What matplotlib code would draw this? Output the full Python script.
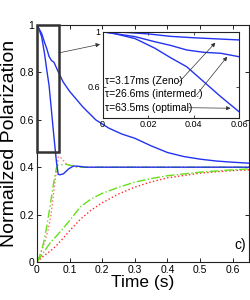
import matplotlib
matplotlib.use("Agg")
import matplotlib.pyplot as plt
from matplotlib.patches import Rectangle

plt.rcParams['font.family'] = ['Liberation Sans Narrow', 'Liberation Sans', 'DejaVu Sans']

# ---------------- data ----------------
# intermediate tau (slow blue, main plot)
t_inter = [0, 0.0143, 0.023, 0.03, 0.037, 0.0445, 0.052, 0.06, 0.066, 0.08, 0.1, 0.14, 0.18,
           0.22, 0.26, 0.3, 0.35, 0.4, 0.45, 0.5, 0.55, 0.6, 0.65]
p_inter = [1.0, 0.964, 0.927, 0.90, 0.867, 0.85, 0.843, 0.818, 0.80, 0.76, 0.72, 0.655, 0.60,
           0.565, 0.54, 0.522, 0.49, 0.462, 0.445, 0.434, 0.426, 0.421, 0.417]

# optimal tau (fast blue)
t_opt = [0, 0.0055, 0.0143, 0.023, 0.03, 0.037, 0.0445, 0.052, 0.06, 0.065, 0.07, 0.081,
         0.097, 0.112, 0.127, 0.15, 0.65]
p_opt = [1.0, 0.985, 0.95, 0.88, 0.81, 0.745, 0.636, 0.527, 0.418, 0.37, 0.368, 0.372,
         0.393, 0.405, 0.404, 0.40, 0.40]

# Zeno tau (inset only)
t_zeno = [0, 0.01, 0.02, 0.03, 0.04, 0.05, 0.06]
p_zeno = [1.0, 0.995, 0.984, 0.966, 0.956, 0.948, 0.94]

# fast green (dash-dot)
t_gfast = [0, 0.01, 0.02, 0.03, 0.04, 0.05, 0.06, 0.065, 0.09, 0.11, 0.13, 0.65]
p_gfast = [0, 0.03, 0.08, 0.15, 0.235, 0.325, 0.40, 0.41, 0.412, 0.405, 0.40, 0.40]

# fast red (dotted)
t_rfast = [0, 0.015, 0.025, 0.035, 0.043, 0.051, 0.058, 0.066, 0.073, 0.081, 0.09, 0.102,
           0.12, 0.15, 0.65]
p_rfast = [0, 0.05, 0.09, 0.14, 0.2, 0.29, 0.37, 0.445, 0.44, 0.428, 0.415, 0.407,
           0.401, 0.40, 0.40]

# slow green (dash-dot)
t_gslow = [0, 0.02, 0.04, 0.065, 0.085, 0.1, 0.133, 0.165, 0.2, 0.25, 0.3, 0.35, 0.4,
           0.5, 0.58, 0.65]
p_gslow = [0, 0.04, 0.08, 0.118, 0.15, 0.175, 0.233, 0.265, 0.29, 0.315, 0.337, 0.352,
           0.364, 0.379, 0.387, 0.393]

# slow red (dotted)
t_rslow = [0, 0.02, 0.04, 0.06, 0.08, 0.1, 0.133, 0.165, 0.2, 0.25, 0.3, 0.35, 0.4,
           0.5, 0.58, 0.65]
p_rslow = [0, 0.025, 0.045, 0.07, 0.1, 0.132, 0.18, 0.218, 0.25, 0.287, 0.316, 0.338,
           0.355, 0.375, 0.384, 0.389]

x_ticks = [0, 0.1, 0.2, 0.3, 0.4, 0.5, 0.6]
x_labels = ["0", "0.1", "0.2", "0.3", "0.4", "0.5", "0.6"]
y_ticks = [0, 0.2, 0.4, 0.6, 0.8, 1.0]
y_labels = ["0", "0.2", "0.4", "0.6", "0.8", "1"]
ix_ticks = [0, 0.02, 0.04, 0.06]
ix_labels = ["0", "0.02", "0.04", "0.06"]
iy_ticks = [0.6, 1.0]
iy_labels = ["0.6", "1"]
labels_tau = ["τ=3.17ms (Zeno)", "τ=26.6ms (intermed.)", "τ=63.5ms (optimal)"]

BLUE = "#2433f0"
GREEN = "#66e01a"
RED = "#ff2a2a"
RED_LIGHT = "#ff7070"

# ---------------- figure ----------------
fig = plt.figure(figsize=(2.51, 3.0), dpi=100)
ax = fig.add_axes([37 / 251, 38 / 300, 212 / 251, 237 / 300])

ax.plot(t_rslow, p_rslow, ':', color=RED, lw=1.0)
ax.plot(t_gslow, p_gslow, '-.', color=GREEN, lw=1.0)
ax.plot(t_rfast, p_rfast, ':', color=RED_LIGHT, lw=1.0)
ax.plot(t_gfast, p_gfast, '-.', color=GREEN, lw=1.0, dashes=(6, 2, 1, 2))
ax.plot(t_inter, p_inter, '-', color=BLUE, lw=1.0)
ax.plot(t_opt, p_opt, '-', color=BLUE, lw=1.0)

ax.set_xlim(0, 0.65)
ax.set_ylim(0, 1)
ax.set_xticks(x_ticks)
ax.set_xticklabels(x_labels)
ax.set_yticks(y_ticks)
ax.set_yticklabels(y_labels)
ax.tick_params(direction='in', top=True, right=True, labelsize=7.5, length=3, width=0.6,
               pad=2)
for s in ax.spines.values():
    s.set_linewidth(0.8)
    s.set_color('#222222')
ax.set_xlabel("Time (s)", fontsize=12.5, labelpad=0)
ax.set_ylabel("Normailzed Polarization", fontsize=14, labelpad=1)
ax.text(0.958, 0.07, "c)", transform=ax.transAxes, fontsize=10, ha='center', va='center')

# zoom box
ax.add_patch(Rectangle((0, 0.463), 0.066, 0.537, fill=False, ec='#333333', lw=1.8,
                       zorder=5, clip_on=False))

# ---------------- inset ----------------
ins = fig.add_axes([102.5 / 251, (300 - 118) / 300, 136.5 / 251, 86.3 / 300])
ins.plot(t_zeno, p_zeno, '-', color=BLUE, lw=1.0)
ins.plot(t_inter[:8], p_inter[:8], '-', color=BLUE, lw=1.0)
ins.plot(t_opt[:9], p_opt[:9], '-', color=BLUE, lw=1.0)
ins.set_xlim(0, 0.06)
ins.set_ylim(0.372, 1.0)
ins.set_xticks(ix_ticks)
ins.set_xticklabels(ix_labels)
ins.set_yticks(iy_ticks)
ins.set_yticklabels(iy_labels)
ins.tick_params(direction='in', top=True, right=True, labelsize=6.5, length=2.5, width=0.5,
                pad=1.5)
for s in ins.spines.values():
    s.set_linewidth(0.8)
    s.set_color('#222222')

text_y = [0.638, 0.547, 0.442]
for lab, yy in zip(labels_tau, text_y):
    ins.text(0.0011, yy, lab, fontsize=7.5, ha='left', va='center')

arr = dict(arrowstyle='-|>', color='#333333', lw=0.5, mutation_scale=6, shrinkA=0, shrinkB=0)
ins.annotate('', xy=(0.0496, 0.92), xytext=(0.0338, 0.636), arrowprops=arr)
ins.annotate('', xy=(0.0548, 0.818), xytext=(0.0413, 0.54), arrowprops=arr)
ins.annotate('', xy=(0.0563, 0.443), xytext=(0.0379, 0.447), arrowprops=arr)

# arrow from zoom box to inset
ax.annotate('', xy=(-0.018, 0.854), xycoords=ins.transAxes,
            xytext=(0.066, 0.882), textcoords=ax.transData,
            arrowprops=arr, annotation_clip=False)

fig.savefig("out.png", dpi=100)
